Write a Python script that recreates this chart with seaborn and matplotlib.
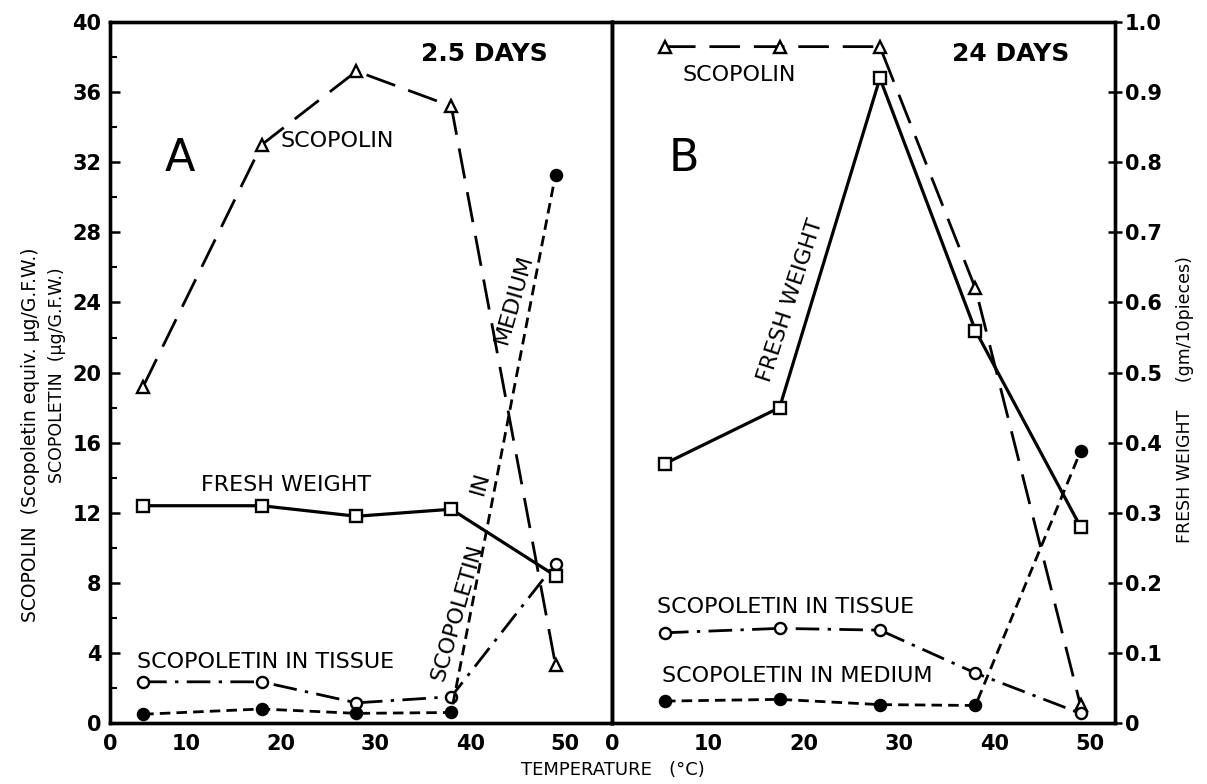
import matplotlib
matplotlib.use("Agg")
import matplotlib.pyplot as plt
import seaborn as sns
import numpy as np

sns.set_theme(style="white")
plt.rcParams['font.family'] = ['DejaVu Sans']
plt.rcParams['text.color'] = 'black'
plt.rcParams['xtick.color'] = 'black'
plt.rcParams['ytick.color'] = 'black'

# ---- data ----
temp_a = [5.5, 18, 28, 38, 49]
scopolin_a = [19.2, 33.0, 37.2, 35.2, 3.3]
fresh_a = [0.31, 0.31, 0.295, 0.305, 0.21]
tissue_a = [2.35, 2.35, 1.15, 1.5, 9.1]
medium_a = [0.5, 0.8, 0.55, 0.6, 31.3]

temp_b = [5.5, 17.5, 28, 38, 49]
scopolin_b = [38.6, 38.6, 38.6, 24.8, 1.0]
fresh_b = [0.37, 0.45, 0.92, 0.56, 0.28]
tissue_b = [5.15, 5.4, 5.3, 2.85, 0.55]
medium_b = [1.25, 1.35, 1.05, 1.0, 15.5]

left_ticks = [0, 4, 8, 12, 16, 20, 24, 28, 32, 36, 40]
right_ticks = [0, 0.1, 0.2, 0.3, 0.4, 0.5, 0.6, 0.7, 0.8, 0.9, 1.0]
right_labels = ["0", "0.1", "0.2", "0.3", "0.4", "0.5", "0.6", "0.7", "0.8", "0.9", "1.0"]
x_ticks = [10, 20, 30, 40, 50]

fig = plt.figure(figsize=(12.07, 7.84), dpi=100)
L, B, W, H = 0.0911, 0.0778, 0.4163, 0.894
axA = fig.add_axes([L, B, W, H])
axB = fig.add_axes([L + W, B, W, H])
axA2 = axA.twinx()
axB2 = axB.twinx()

lw = 2.0
ms = 8
styles = dict(
    scop=dict(marker='^', linestyle=(0, (11, 5)), mfc='white'),
    fresh=dict(marker='s', linestyle='-', mfc='white'),
    tissue=dict(marker='o', linestyle=(0, (8.5, 3, 1.2, 3)), mfc='white'),
    medium=dict(marker='o', linestyle=(0, (3.8, 2.2)), mfc='black'),
)

def draw(ax, ax2, t, sc, fw, ti, me):
    for y, key, a in [(sc, 'scop', ax), (ti, 'tissue', ax), (me, 'medium', ax), (fw, 'fresh', ax2)]:
        st = styles[key]
        sns.lineplot(x=t, y=y, ax=a, color='black', linewidth=lw if key != 'fresh' else 2.3,
                     marker=st['marker'], markersize=ms, markerfacecolor=st['mfc'],
                     markeredgecolor='black', markeredgewidth=1.7, linestyle=st['linestyle'],
                     legend=False, clip_on=False)

draw(axA, axA2, temp_a, scopolin_a, fresh_a, tissue_a, medium_a)
draw(axB, axB2, temp_b, scopolin_b, fresh_b, tissue_b, medium_b)

for ax, xl in [(axA, (2, 55)), (axB, (0, 52.6))]:
    ax.set_xlim(*xl)
    ax.set_ylim(0, 40)
for ax2 in (axA2, axB2):
    ax2.set_ylim(0, 1.0)

tick_font = dict(fontsize=15, fontweight='bold')

# panel A axes
axA.set_yticks(left_ticks)
axA.set_yticklabels([str(v) for v in left_ticks], **tick_font)
axA.set_yticks(np.arange(2, 40, 4), minor=True)
axA.set_xticks([2] + x_ticks)
axA.set_xticklabels(["0"] + [str(v) for v in x_ticks], **tick_font)
axA.tick_params(axis='y', which='major', direction='in', length=7, width=1.8, pad=6)
axA.tick_params(axis='y', which='minor', direction='in', length=5, width=1.5)
axA.tick_params(axis='x', direction='in', length=7, width=1.8, pad=8)
axA2.set_yticks([])

# panel B axes
axB.set_yticks([])
axB.set_xticks([0] + x_ticks)
axB.set_xticklabels(["0"] + [str(v) for v in x_ticks], **tick_font)
axB.tick_params(axis='x', direction='in', length=7, width=1.8, pad=8)
axB2.set_yticks(right_ticks)
axB2.set_yticklabels(right_labels, **tick_font)
axB2.tick_params(axis='y', direction='inout', length=10, width=1.8, pad=2)

for ax in (axA, axB, axA2, axB2):
    ax.set_ylabel('')
    ax.set_xlabel('')
    for s in ax.spines.values():
        s.set_linewidth(2.4)
        s.set_color('black')

# texts
tf = dict(color='black', fontsize=16)
axA.text(41.5, 38.2, "2.5 DAYS", fontsize=18, fontweight='bold', ha='center', va='center')
axB.text(41.7, 38.2, "24 DAYS", fontsize=18, fontweight='bold', ha='center', va='center')
axA.text(9.4, 32.2, "A", fontsize=32, ha='center', va='center')
axB.text(7.5, 32.2, "B", fontsize=32, ha='center', va='center')
axA.text(20.0, 33.2, "SCOPOLIN", ha='left', va='center', **tf)
axB.text(7.3, 37.0, "SCOPOLIN", ha='left', va='center', **tf)
axA.text(20.6, 13.6, "FRESH WEIGHT", ha='center', va='center', **tf)
axA.text(18.4, 3.5, "SCOPOLETIN IN TISSUE", ha='center', va='center', **tf)
axA.text(38.6, 6.3, "SCOPOLETIN", ha='center', va='center', rotation=74, **tf)
axA.text(41.1, 13.7, "IN", ha='center', va='center', rotation=74, **tf)
axA.text(44.6, 24.2, "MEDIUM", ha='center', va='center', rotation=74, **tf)
axB.text(18.6, 24.1, "FRESH WEIGHT", ha='center', va='center', rotation=72, **tf)
axB.text(18.1, 6.6, "SCOPOLETIN IN TISSUE", ha='center', va='center', **tf)
axB.text(19.3, 2.7, "SCOPOLETIN IN MEDIUM", ha='center', va='center', **tf)

fig.text(0.025, 0.445, "SCOPOLIN  (Scopoletin equiv. \u03bcg/G.F.W.)", rotation=90,
         ha='center', va='center', fontsize=13.5)
fig.text(0.047, 0.522, "SCOPOLETIN  (\u03bcg/G.F.W.)", rotation=90,
         ha='center', va='center', fontsize=12.5)
fig.text(0.982, 0.49, "FRESH WEIGHT     (gm/10pieces)", rotation=90,
         ha='center', va='center', fontsize=12.5)
fig.text(0.508, 0.018, "TEMPERATURE   (\u00b0C)", ha='center', va='center', fontsize=13)

fig.savefig("out.png", dpi=100)
